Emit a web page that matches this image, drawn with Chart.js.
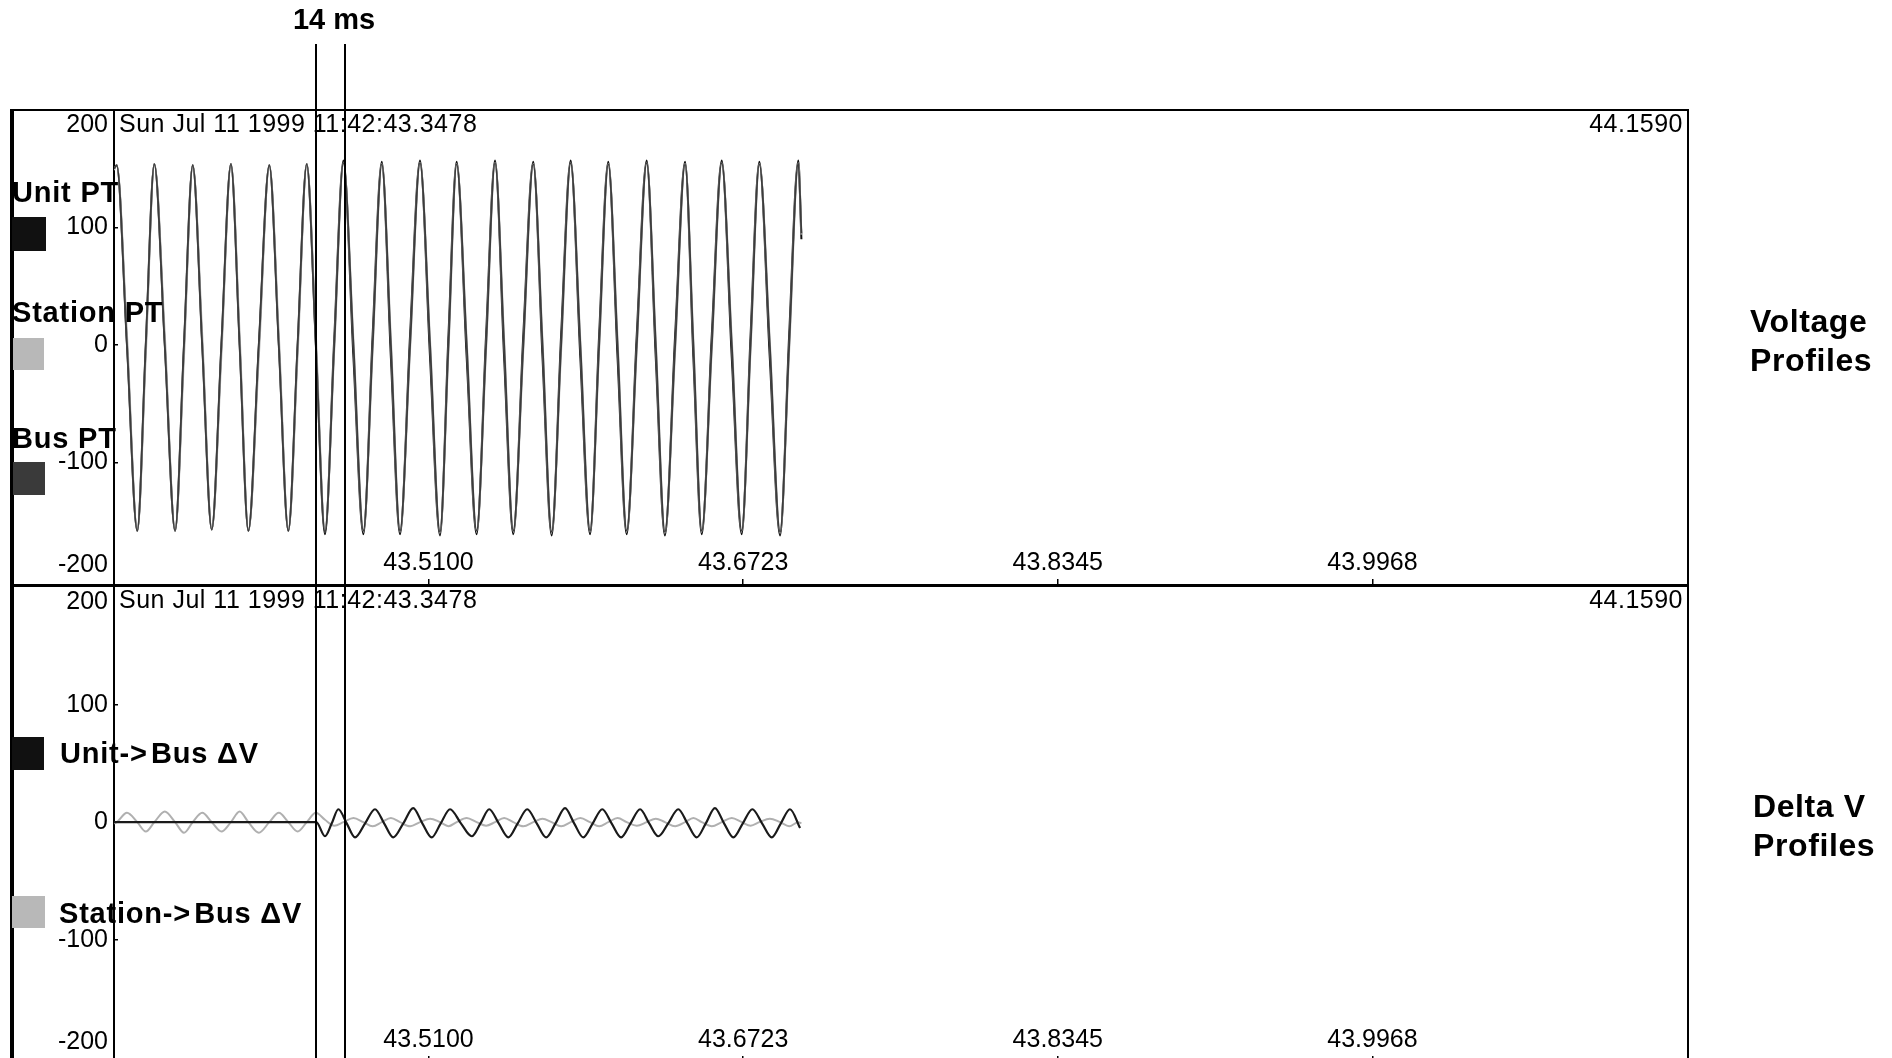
<!DOCTYPE html>
<html lang="en">
<head>
<meta charset="UTF-8" />
<title>Voltage and Delta V Profiles</title>
<script src="https://cdn.jsdelivr.net/npm/chart.js"></script>
<style>
  html, body { margin: 0; padding: 0; }
  body {
    width: 1892px; height: 1058px; overflow: hidden; position: relative;
    background: #fff; color: #000;
    font-family: "Liberation Sans", Arial, sans-serif;
  }
  canvas { position: absolute; left: 0; }
  #topChart { top: 0; }
  #bottomChart { top: 526px; }
  .frame {
    position: absolute; left: 10px; top: 109px; width: 1679px; height: 1000px;
    box-sizing: border-box;
    border-left: 4px solid #000; border-top: 2px solid #000; border-right: 2px solid #000;
  }
  .divider { position: absolute; left: 10px; top: 584px; width: 1679px; height: 3px; background: #000; }
  .lbl {
    position: absolute; font-weight: bold; font-size: 29px; line-height: 28px;
    letter-spacing: 0.8px; white-space: nowrap;
  }
  .swatch { position: absolute; }
  .side {
    position: absolute; left: 1750px; font-weight: bold; font-size: 32px; line-height: 39px;
    letter-spacing: 0.6px;
  }
  #cursorLabel {
    position: absolute; left: 334px; top: 5px; transform: translateX(-50%);
    font-weight: bold; font-size: 29px; line-height: 29px; white-space: nowrap;
  }
</style>
</head>
<body>
  <div class="frame"></div>
  <div class="divider"></div>
  <canvas id="topChart" width="1892" height="640"></canvas>
  <canvas id="bottomChart" width="1892" height="597"></canvas>

  <div id="cursorLabel">14 ms</div>

  <!-- legend, top panel -->
  <div class="lbl" style="left:12px; top:178px;">Unit PT</div>
  <div class="swatch" style="left:12px; top:217px; width:34px; height:34px; background:#111;"></div>
  <div class="lbl" style="left:12px; top:298px;">Station PT</div>
  <div class="swatch" style="left:13px; top:338px; width:31px; height:32px; background:#b8b8b8;"></div>
  <div class="lbl" style="left:12px; top:424px;">Bus PT</div>
  <div class="swatch" style="left:13px; top:462px; width:32px; height:33px; background:#3a3a3a;"></div>

  <!-- legend, bottom panel -->
  <div class="swatch" style="left:12px; top:737px; width:32px; height:33px; background:#111;"></div>
  <div class="lbl" style="left:60px; top:739px;">Unit-&gt;&#8202;Bus ΔV</div>
  <div class="swatch" style="left:12px; top:896px; width:33px; height:32px; background:#b8b8b8;"></div>
  <div class="lbl" style="left:59px; top:899px;">Station-&gt;&#8202;Bus ΔV</div>

  <div class="side" style="top:302px;">Voltage<br>Profiles</div>
  <div class="side" style="top:787px; left:1753px;">Delta V<br>Profiles</div>

<script>
// time axis: seconds on the labels, data in ms after START
const START = 43.3478;
const END = 44.1590;
const headerStart = 'Sun Jul 11 1999 11:42:43.3478';
const headerEnd = '44.1590';
const xTickLabels = ['43.5100', '43.6723', '43.8345', '43.9968'];
const yTicks = [-200, -100, 0, 100, 200];
const cursorTimes = [104.2, 119.3];

// top panel samples: peak, falling zero, trough, rising zero of each cycle
const topTimes = [
  0, 1.4, 6.7, 12.0, 16.4,
  20.8, 26.2, 31.5, 36.1,
  40.6, 45.5, 50.4, 55.4,
  60.3, 64.8, 69.3, 74.7,
  80.1, 85.0, 89.9, 94.7,
  99.4, 104.1, 108.8, 113.6,
  118.3, 123.5, 128.6, 133.4,
  138.1, 142.8, 147.5, 152.7,
  157.8, 163.0, 168.1, 172.5,
  176.7, 181.9, 187.0, 191.9,
  196.5, 201.2, 205.9, 211.1,
  216.2, 221.0, 225.7, 230.6,
  235.5, 240.5, 245.5, 250.2,
  254.9, 259.7, 264.4, 269.6,
  274.7, 279.4, 284.1, 289.4,
  294.5, 298.8, 303.1, 308.3,
  313.4, 318.6, 323.7, 328.3,
  332.8, 338.2, 343.5, 348.2,
  352.9, 354.5
];

const unitPT = [
  150, 153, 0, -158, 0,
  154, 0, -158, 0,
  153, 0, -157, 0,
  154, 0, -158, 0,
  153, 0, -158, 0,
  154, 0, -161, 6,
  157, -11, -161, 9,
  156, -11, -161, 9,
  157, -11, -162, 9,
  156, -11, -161, 9,
  157, -11, -161, 9,
  156, -11, -162, 9,
  157, -11, -161, 9,
  156, -11, -161, 9,
  157, -11, -162, 9,
  156, -11, -161, 9,
  157, -11, -161, 9,
  156, -11, -162, 9,
  157, 90
];

const stationPT = [
  149, 153, 8, -158, -8,
  154, 8, -158, -9,
  153, 8, -157, -8,
  154, 8, -158, -9,
  153, 8, -158, -8,
  154, 8, -157, -3,
  155, 3, -158, -3,
  154, 4, -158, -3,
  155, 3, -159, -4,
  154, 3, -158, -3,
  155, 4, -158, -3,
  154, 3, -159, -4,
  155, 3, -158, -3,
  154, 4, -158, -3,
  155, 3, -159, -4,
  154, 3, -158, -3,
  155, 4, -158, -3,
  154, 3, -159, -4,
  155, 94
];

const busPT = [
  150, 153, 0, -158, 0,
  154, 0, -158, 0,
  153, 0, -157, 0,
  154, 0, -158, 0,
  153, 0, -158, 0,
  154, 0, -159, 0,
  155, 0, -158, 0,
  154, 0, -158, 0,
  155, 0, -159, 0,
  154, 0, -158, 0,
  155, 0, -158, 0,
  154, 0, -159, 0,
  155, 0, -158, 0,
  154, 0, -158, 0,
  155, 0, -159, 0,
  154, 0, -158, 0,
  155, 0, -158, 0,
  154, 0, -159, 0,
  155, 95
];

// bottom panel
const unitDvTimes = [
  0, 104.3,
  108.8, 112.3, 115.7, 120.0,
  124.3, 129.5, 134.6, 139.3,
  144.0, 149.2, 154.3, 159.0,
  163.8, 168.5, 173.3, 178.9,
  184.5, 189.0, 193.5, 198.4,
  203.4, 208.2, 213.1, 218.0,
  222.8, 227.7, 232.6, 237.3,
  242.0, 246.9, 251.8, 256.6,
  261.5, 266.4, 271.3, 276.0,
  280.7, 285.8, 291.0, 295.7,
  300.5, 305.2, 309.9, 314.6,
  319.4, 324.3, 329.2, 334.2,
  339.2, 343.9, 348.6, 353.8
];
const unitDv = [
  0, 0,
  -12, -1, 11, -1,
  -13, -1, 11, -1,
  -13, -1, 12, -1,
  -13, -1, 11, -1,
  -12, -1, 11, -1,
  -13, -1, 11, -1,
  -13, -1, 12, -1,
  -13, -1, 11, -1,
  -13, -1, 11, -1,
  -12, -1, 11, -1,
  -13, -1, 12, -1,
  -13, -1, 11, -1,
  -13, -1, 11, -5
];
// station->bus difference, sampled on topTimes
const stationDv = [
  -1, 0, 8, 0, -8,
  0, 9, 0, -9,
  0, 8, 0, -8,
  0, 9, 0, -9,
  0, 8, 0, -8,
  0, 8, 2, -3,
  0, 3.5, 0, -3.5,
  0, 3.5, 0, -3.5,
  0, 3, 0, -3.5,
  0, 3.5, 0, -3,
  0, 3.5, 0, -3.5,
  0, 3, 0, -3.5,
  0, 3.5, 0, -3.5,
  0, 3.5, 0, -3,
  0, 3, 0, -3.5,
  0, 3.5, 0, -3.5,
  0, 3.5, 0, -3,
  0, 3, 0, -3.5,
  0, -1
];

Chart.defaults.font.family = '"Liberation Sans", Arial, sans-serif';
Chart.defaults.font.size = 25;
Chart.defaults.color = '#000';

function pts(times, values) {
  return times.map((t, i) => ({ x: t, y: values[i] }));
}

// two cursor lines across both panels
const cursorPlugin = {
  id: 'cursors',
  afterDatasetsDraw(chart, args, opts) {
    const { ctx, chartArea: a, scales: { x } } = chart;
    ctx.save();
    ctx.strokeStyle = '#000';
    ctx.lineWidth = 2;
    cursorTimes.forEach(t => {
      const px = Math.round(x.getPixelForValue(t));
      ctx.beginPath();
      ctx.moveTo(px, opts.from != null ? opts.from : a.top);
      ctx.lineTo(px, a.bottom);
      ctx.stroke();
    });
    ctx.restore();
  }
};

// start / end time written inside the top of each panel
const headerPlugin = {
  id: 'header',
  afterDraw(chart) {
    const { ctx, chartArea: a } = chart;
    ctx.save();
    ctx.font = '25px "Liberation Sans", Arial, sans-serif';
    ctx.fillStyle = '#000';
    ctx.textBaseline = 'middle';
    ctx.letterSpacing = '0.5px';
    ctx.textAlign = 'left';
    ctx.fillText(headerStart, a.left + 5, a.top + 15);
    ctx.textAlign = 'right';
    ctx.fillText(headerEnd, a.right - 4, a.top + 15);
    ctx.restore();
  }
};

function makeScales(yMin, yMax) {
  return {
    x: {
      type: 'linear',
      min: 0,
      max: (END - START) * 1000,
      afterBuildTicks: s => { s.ticks = xTickLabels.map(l => ({ value: (parseFloat(l) - START) * 1000 })); },
      afterFit: s => { s.height = 0; },
      grid: { drawOnChartArea: false, drawTicks: true, tickLength: -7, color: '#000', lineWidth: 1.5 },
      border: { display: false },
      // mirror keeps the labels inside the plot, above the bottom edge
      ticks: { mirror: true, padding: 8, maxRotation: 0, autoSkip: false, callback: (v, i) => xTickLabels[i] }
    },
    y: {
      min: yMin,
      max: yMax,
      afterBuildTicks: s => { s.ticks = yTicks.map(v => ({ value: v })); },
      afterFit: s => { s.width = 114; },
      grid: {
        drawOnChartArea: false, drawTicks: true, tickLength: -4, lineWidth: 1.5,
        color: c => (Math.abs(c.tick.value) === 200 ? 'rgba(0,0,0,0)' : '#000')
      },
      border: { display: true, color: '#000', width: 2 },
      ticks: {
        padding: 10,
        autoSkip: false,
        callback: v => {
          if (v === 200) return ['', '200'];
          if (v === -200) return ['-200', ''];
          return String(v);
        }
      }
    }
  };
}

const line = { pointRadius: 0, fill: false, cubicInterpolationMode: 'monotone' };

new Chart(document.getElementById('topChart'), {
  type: 'line',
  data: {
    datasets: [
      { label: 'Unit PT', data: pts(topTimes, unitPT), borderColor: '#111', borderWidth: 2, order: 2, ...line },
      { label: 'Station PT', data: pts(topTimes, stationPT), borderColor: '#b4b4b4', borderWidth: 2, order: 1, ...line },
      { label: 'Bus PT', data: pts(topTimes, busPT), borderColor: '#3c3c3c', borderWidth: 1.8, order: 0, ...line }
    ]
  },
  options: {
    responsive: false,
    animation: false,
    events: [],
    layout: { padding: { top: 110, right: 205, bottom: 54, left: 0 } },
    scales: makeScales(-205, 200),
    plugins: { legend: { display: false }, tooltip: { enabled: false }, cursors: { from: 44 } }
  },
  plugins: [cursorPlugin, headerPlugin]
});

new Chart(document.getElementById('bottomChart'), {
  type: 'line',
  data: {
    datasets: [
      { label: 'Unit->Bus ΔV', data: pts(unitDvTimes, unitDv), borderColor: '#1a1a1a', borderWidth: 2.2, order: 0, ...line },
      { label: 'Station->Bus ΔV', data: pts(topTimes, stationDv), borderColor: '#b0b0b0', borderWidth: 2, order: 1, ...line }
    ]
  },
  options: {
    responsive: false,
    animation: false,
    events: [],
    layout: { padding: { top: 60, right: 205, bottom: 60, left: 0 } },
    scales: makeScales(-205, 201),
    plugins: { legend: { display: false }, tooltip: { enabled: false } }
  },
  plugins: [cursorPlugin, headerPlugin]
});
</script>
</body>
</html>
